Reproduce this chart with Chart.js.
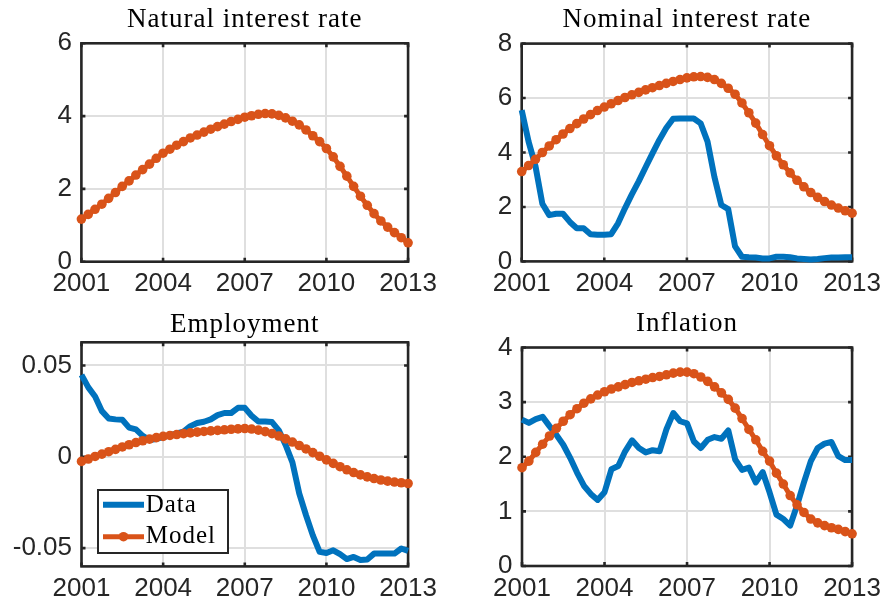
<!DOCTYPE html>
<html><head><meta charset="utf-8">
<script src="https://cdn.jsdelivr.net/npm/chart.js@4.4.1/dist/chart.umd.min.js"></script>
<style>
html,body{margin:0;padding:0;background:#fff;}
#wrap{position:relative;width:888px;height:607px;overflow:hidden;background:#fff;}
canvas{position:absolute;}
</style></head><body>
<div id="wrap">
<canvas id="c0" width="444" height="300" style="left:0px;top:0px"></canvas>
<canvas id="c1" width="444" height="300" style="left:444px;top:0px"></canvas>
<canvas id="c2" width="444" height="307" style="left:0px;top:300px"></canvas>
<canvas id="c3" width="444" height="307" style="left:444px;top:300px"></canvas>
</div>
<script>
// ---------- DATA ----------
const quarters = [2001,2001.25,2001.5,2001.75,2002,2002.25,2002.5,2002.75,2003,2003.25,2003.5,2003.75,
  2004,2004.25,2004.5,2004.75,2005,2005.25,2005.5,2005.75,2006,2006.25,2006.5,2006.75,
  2007,2007.25,2007.5,2007.75,2008,2008.25,2008.5,2008.75,2009,2009.25,2009.5,2009.75,
  2010,2010.25,2010.5,2010.75,2011,2011.25,2011.5,2011.75,2012,2012.25,2012.5,2012.75,2013];

const titles = ['Natural interest rate','Nominal interest rate','Employment','Inflation'];
const seriesNames = ['Data','Model'];

const xTicks = [2001,2004,2007,2010,2013];
const xTickLabels = ['2001','2004','2007','2010','2013'];

const natTicks = [0,2,4,6];           const natTickLabels = ['0','2','4','6'];
const nomTicks = [0,2,4,6,8];         const nomTickLabels = ['0','2','4','6','8'];
const empTicks = [-0.05,0,0.05];      const empTickLabels = ['-0.05','0','0.05'];
const infTicks = [0,1,2,3,4];         const infTickLabels = ['0','1','2','3','4'];

const natModel = [1.17,1.30,1.44,1.58, 1.74,1.90,2.07,2.22, 2.38,2.53,2.68,2.84,
  2.98,3.09,3.20,3.30, 3.40,3.48,3.56,3.64, 3.71,3.78,3.85,3.91,
  3.97,4.01,4.05,4.07, 4.06,4.02,3.95,3.86, 3.76,3.62,3.46,3.30,
  3.11,2.88,2.62,2.35, 2.07,1.80,1.55,1.32, 1.12,0.95,0.80,0.66, 0.52];

const nomData = [5.56,4.40,3.50,2.12, 1.70,1.75,1.75,1.45, 1.22,1.22,1.00,0.98,
  0.98,1.00,1.40,1.95, 2.46,2.94,3.46,3.97, 4.46,4.90,5.24,5.25,
  5.25,5.25,5.07,4.40, 3.10,2.07,1.92,0.55, 0.17,0.15,0.14,0.11,
  0.11,0.17,0.17,0.15, 0.11,0.09,0.07,0.09, 0.12,0.14,0.14,0.15, 0.15];
const nomModel = [3.30,3.52,3.75,4.00, 4.24,4.47,4.68,4.88, 5.06,5.23,5.39,5.54,
  5.67,5.79,5.91,6.02, 6.12,6.21,6.30,6.38, 6.46,6.54,6.61,6.68,
  6.74,6.78,6.79,6.76, 6.68,6.54,6.36,6.14, 5.82,5.46,5.08,4.66,
  4.25,3.88,3.55,3.25, 2.98,2.74,2.53,2.35, 2.20,2.07,1.96,1.86, 1.77];

const empData = [0.0449,0.0380,0.0330,0.0250, 0.0210,0.0205,0.0203,0.0160,
  0.0150,0.0115,0.0092,0.0098, 0.0108,0.0118,0.0128,0.0138,
  0.0168,0.0185,0.0192,0.0205, 0.0228,0.0240,0.0240,0.0268,
  0.0268,0.0225,0.0193,0.0193, 0.0190,0.0145,0.0065,-0.0030,
  -0.0200,-0.0320,-0.0430,-0.0520, -0.0527,-0.0512,-0.0533,-0.0560,
  -0.0548,-0.0565,-0.0562,-0.0530, -0.0530,-0.0530,-0.0530,-0.0502, -0.0515];
const empModel = [-0.0025,-0.0012,0.0002,0.0015, 0.0028,0.0041,0.0054,0.0066,
  0.0078,0.0088,0.0097,0.0105, 0.0112,0.0117,0.0122,0.0127,
  0.0131,0.0135,0.0139,0.0142, 0.0145,0.0148,0.0151,0.0153,
  0.0155,0.0152,0.0146,0.0138, 0.0127,0.0114,0.0098,0.0081,
  0.0062,0.0043,0.0023,0.0003, -0.0017,-0.0036,-0.0054,-0.0071,
  -0.0086,-0.0099,-0.0110,-0.0119, -0.0127,-0.0133,-0.0138,-0.0142, -0.0146];

const infData = [2.68,2.62,2.69,2.73, 2.56,2.40,2.22,1.98, 1.71,1.47,1.32,1.21,
  1.35,1.77,1.83,2.10, 2.30,2.16,2.08,2.12, 2.10,2.50,2.80,2.65,
  2.61,2.28,2.16,2.31, 2.36,2.33,2.48,1.95, 1.76,1.80,1.53,1.72,
  1.35,0.94,0.86,0.74, 1.11,1.53,1.92,2.16, 2.24,2.27,2.01,1.94, 1.94];
const infModel = [1.80,1.92,2.08,2.23, 2.38,2.52,2.65,2.77, 2.88,2.98,3.06,3.13,
  3.19,3.24,3.28,3.32, 3.36,3.39,3.42,3.45, 3.47,3.50,3.53,3.55,
  3.55,3.52,3.46,3.38, 3.28,3.17,3.05,2.89, 2.70,2.50,2.31,2.10,
  1.92,1.70,1.50,1.29, 1.12,0.98,0.86,0.79, 0.74,0.70,0.67,0.63, 0.59];

// ---------- STYLE ----------
const BLUE = '#0072BD', ORANGE = '#D95319', AXIS = '#262626', GRID = '#dfdfdf';
const TICK_FONT = {family:'"Liberation Sans", Arial, Helvetica, sans-serif', size:26};
const SERIF = '"Liberation Serif", "Times New Roman", serif';
const MODEL_LW = 5, MODEL_R = 4.8, DATA_LW = 6;

function pts(vals){ return quarters.map((x,i)=>({x:x, y:vals[i]})); }
function modelSet(vals){
  return {label:seriesNames[1], data:pts(vals), borderColor:ORANGE, backgroundColor:ORANGE,
    borderWidth:MODEL_LW, pointRadius:MODEL_R, pointBorderWidth:0, pointBackgroundColor:ORANGE,
    pointHoverRadius:MODEL_R, tension:0, clip:false, borderJoinStyle:'round'};
}
function dataSet(vals){
  return {label:seriesNames[0], data:pts(vals), borderColor:BLUE, backgroundColor:BLUE,
    borderWidth:DATA_LW, pointRadius:0, pointHoverRadius:0, tension:0, clip:false,
    borderJoinStyle:'round', borderCapStyle:'butt'};
}

const deco = {
  id:'panelDeco',
  beforeDatasetsDraw(chart, args, opts){
    const {ctx, chartArea:a} = chart;
    const x = chart.scales.x, y = chart.scales.y;
    ctx.save();
    ctx.strokeStyle = AXIS; ctx.lineWidth = 2.6;
    ctx.strokeRect(a.left, a.top, a.right-a.left, a.bottom-a.top);
    const tl = 4;
    ctx.beginPath();
    x.ticks.forEach(t=>{ const p = x.getPixelForValue(t.value);
      ctx.moveTo(p, a.bottom); ctx.lineTo(p, a.bottom-tl);
      ctx.moveTo(p, a.top); ctx.lineTo(p, a.top+tl); });
    y.ticks.forEach(t=>{ const p = y.getPixelForValue(t.value);
      ctx.moveTo(a.left, p); ctx.lineTo(a.left+tl, p);
      ctx.moveTo(a.right, p); ctx.lineTo(a.right-tl, p); });
    ctx.stroke();
    ctx.restore();
  },
  afterDraw(chart, args, opts){
    const {ctx, chartArea:a} = chart;
    ctx.save();
    ctx.fillStyle = '#000';
    ctx.font = '27px ' + SERIF;
    if ('letterSpacing' in ctx) ctx.letterSpacing = '1px';
    ctx.textAlign = 'center'; ctx.textBaseline = 'alphabetic';
    ctx.fillText(opts.title, (a.left+a.right)/2, opts.baseline);
    if (opts.legend){
      const bx = a.left + 16.5, by = a.bottom - 76.4, bw = 130, bh = 63;
      ctx.fillStyle = '#fff';
      ctx.fillRect(bx, by, bw, bh);
      ctx.strokeStyle = AXIS; ctx.lineWidth = 2;
      ctx.strokeRect(bx, by, bw, bh);
      ctx.strokeStyle = BLUE; ctx.lineWidth = DATA_LW;
      ctx.beginPath(); ctx.moveTo(bx+5, by+14.7); ctx.lineTo(bx+46, by+14.7); ctx.stroke();
      ctx.strokeStyle = ORANGE; ctx.lineWidth = MODEL_LW;
      ctx.beginPath(); ctx.moveTo(bx+5, by+46.7); ctx.lineTo(bx+46, by+46.7); ctx.stroke();
      ctx.fillStyle = ORANGE;
      ctx.beginPath(); ctx.arc(bx+25.5, by+46.7, MODEL_R, 0, Math.PI*2); ctx.fill();
      ctx.fillStyle = '#000';
      ctx.font = '25px ' + SERIF;
      ctx.textAlign = 'left';
      ctx.fillText(seriesNames[0], bx+47.7, by+21.7);
      ctx.fillText(seriesNames[1], bx+47.7, by+52.7);
    }
    ctx.restore();
  }
};

function makeChart(id, geo, yMin, yMax, yTicks, yLabels, datasets, title, legend){
  const cv = document.getElementById(id);
  const W = cv.width, H = cv.height;
  return new Chart(cv, {
    type:'line',
    data:{datasets:datasets},
    options:{
      responsive:false, animation:false, devicePixelRatio:1,
      events:[],
      layout:{padding:{left:0, top:geo.top, right:W-geo.right, bottom:0}},
      plugins:{
        legend:{display:false}, tooltip:{enabled:false}, title:{display:false},
        panelDeco:{title:title, baseline:geo.baseline, legend:legend}
      },
      scales:{
        x:{
          type:'linear', min:2001, max:2013,
          afterBuildTicks:s=>{ s.ticks = xTicks.map(v=>({value:v})); },
          afterFit:s=>{ s.height = H - geo.bottom; },
          grid:{color:GRID, lineWidth:2, drawTicks:false},
          border:{display:false},
          ticks:{padding:7, color:AXIS, font:TICK_FONT, maxRotation:0, minRotation:0, autoSkip:false,
            callback:(v,i)=>xTickLabels[i]}
        },
        y:{
          type:'linear', min:yMin, max:yMax,
          afterBuildTicks:s=>{ s.ticks = yTicks.map(v=>({value:v})); },
          afterFit:s=>{ s.width = geo.left; },
          grid:{color:GRID, lineWidth:2, drawTicks:false},
          border:{display:false},
          ticks:{padding:9.5, color:AXIS, font:TICK_FONT, autoSkip:false,
            callback:(v,i)=>yLabels[i]}
        }
      }
    },
    plugins:[deco]
  });
}

makeChart('c0', {left:81.4, right:412.7, top:43.3, bottom:261.7, baseline:26.7}, 0, 6, natTicks, natTickLabels,
  [modelSet(natModel)], titles[0], false);
makeChart('c1', {left:77.7, right:409.8, top:43.6, bottom:261.4, baseline:26.7}, 0, 8, nomTicks, nomTickLabels,
  [modelSet(nomModel), dataSet(nomData)], titles[1], false);
makeChart('c2', {left:81.5, right:412.2, top:42.3, bottom:266.4, baseline:31.7}, -0.06, 0.0627, empTicks, empTickLabels,
  [modelSet(empModel), dataSet(empData)], titles[2], true);
makeChart('c3', {left:78, right:409.8, top:47.5, bottom:266, baseline:30.7}, 0, 4, infTicks, infTickLabels,
  [modelSet(infModel), dataSet(infData)], titles[3], false);
</script>
</body></html>
